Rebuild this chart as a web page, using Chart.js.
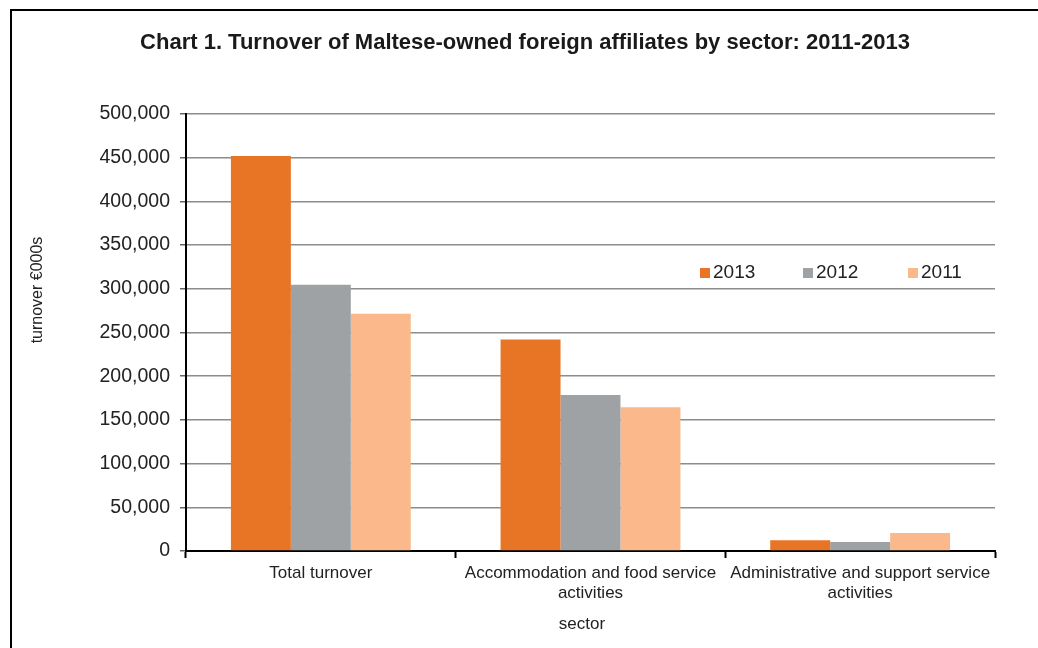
<!DOCTYPE html>
<html>
<head>
<meta charset="utf-8">
<script src="https://cdn.jsdelivr.net/npm/chart.js@4/dist/chart.umd.min.js"></script>
<style>
  html, body { margin: 0; padding: 0; background: #fff; }
  #wrap { width: 1038px; height: 648px; position: relative; }
</style>
</head>
<body>
<div id="wrap"><canvas id="chart"></canvas></div>
<script>
// ---------- DATA ----------
const categories = [
    "Total turnover",
    ["Accommodation and food service", "activities"],
    ["Administrative and support service", "activities"]
];
const years = ["2013", "2012", "2011"];
const turnover2013 = [452000, 242000, 12200];
const turnover2012 = [304700, 178500, 10300];
const turnover2011 = [271500, 164400, 20600];
const yMin = 0, yMax = 500000, yStep = 50000;

const colors = ["#E87425", "#9FA2A5", "#FBB98B"];
const FONT = "'Liberation Sans', Arial, sans-serif";

// ---------- EXTRA TEXT + FRAME ----------
const decor = {
    id: "decor",
    afterDraw(chart) {
        const ctx = chart.ctx;
        ctx.save();

        // outer frame (top + left only visible)
        ctx.strokeStyle = "#000";
        ctx.lineWidth = 2;
        ctx.beginPath();
        ctx.moveTo(11, 660);
        ctx.lineTo(11, 10);
        ctx.lineTo(1040, 10);
        ctx.stroke();

        // title
        ctx.fillStyle = "#1a1a1a";
        ctx.font = "bold 22px " + FONT;
        ctx.textAlign = "center";
        ctx.textBaseline = "middle";
        ctx.fillText("Chart 1. Turnover of Maltese-owned foreign affiliates by sector: 2011-2013", 525, 43);

        // axis titles
        ctx.fillStyle = "#222";
        ctx.font = "17px " + FONT;
        ctx.fillText("sector", 582, 624);
        ctx.save();
        ctx.translate(38, 290);
        ctx.rotate(-Math.PI / 2);
        ctx.font = "16px " + FONT;
        ctx.fillText("turnover €000s", 0, 0);
        ctx.restore();

        // legend inside plot
        const legendX = [700, 803, 908];
        ctx.textAlign = "left";
        ctx.font = "19px " + FONT;
        chart.data.datasets.forEach((ds, i) => {
            ctx.fillStyle = ds.backgroundColor;
            ctx.fillRect(legendX[i], 268, 10, 10);
            ctx.fillStyle = "#222";
            ctx.fillText(ds.label, legendX[i] + 13, 273);
        });

        ctx.restore();
    }
};

new Chart(document.getElementById("chart"), {
    type: "bar",
    data: {
        labels: categories,
        datasets: [
            { label: years[0], data: turnover2013, backgroundColor: colors[0] },
            { label: years[1], data: turnover2012, backgroundColor: colors[1] },
            { label: years[2], data: turnover2011, backgroundColor: colors[2] }
        ]
    },
    options: {
        responsive: true,
        maintainAspectRatio: false,
        animation: false,
        datasets: { bar: { categoryPercentage: 0.667, barPercentage: 1.0 } },
        layout: { padding: { top: 114, right: 43, bottom: 0, left: 0 } },
        plugins: {
            legend: { display: false },
            title: { display: false },
            tooltip: { enabled: false }
        },
        scales: {
            x: {
                afterFit: s => { s.height = 97; },
                border: { display: true, color: "#000", width: 2 },
                grid: {
                    offset: true,
                    drawOnChartArea: false,
                    drawTicks: true,
                    tickLength: 7,
                    tickColor: "#000",
                    tickWidth: 2
                },
                ticks: {
                    color: "#222",
                    font: { family: FONT, size: 17 },
                    padding: 5,
                    autoSkip: false,
                    maxRotation: 0
                }
            },
            y: {
                min: yMin,
                max: yMax,
                afterFit: s => { s.width = 186; },
                border: { display: true, color: "#000", width: 2 },
                grid: {
                    color: "#8c8c8c",
                    lineWidth: 1.5,
                    tickLength: 6,
                    tickColor: "#666"
                },
                ticks: {
                    stepSize: yStep,
                    color: "#222",
                    font: { family: FONT, size: 19.5 },
                    padding: 10,
                    callback: v => v.toLocaleString("en-US")
                }
            }
        }
    },
    plugins: [decor]
});
</script>
</body>
</html>
